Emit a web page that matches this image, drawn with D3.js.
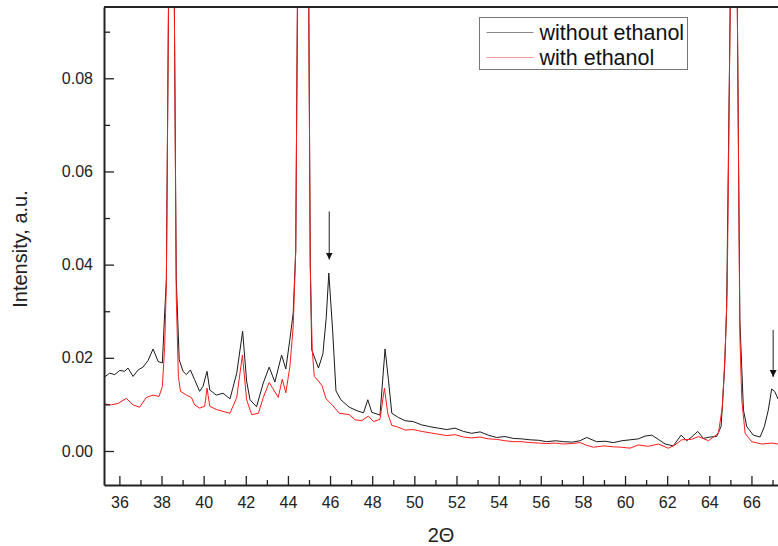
<!DOCTYPE html>
<html>
<head>
<meta charset="utf-8">
<script src="https://cdn.jsdelivr.net/npm/d3@7"></script>
<style>
    body { margin: 0; background: #fff; }
    svg { display: block; font-family: "Liberation Sans", Arial, sans-serif; }
</style>
</head>
<body>
<div id="chart"></div>
<script>
// 2-theta (deg) / intensity (a.u.)
const withoutEthanol = [
    [35.27, 0.0158], [35.54, 0.0167], [35.78, 0.0164], [36.02, 0.0173], [36.25, 0.0171],
    [36.41, 0.0178], [36.65, 0.0160], [36.89, 0.0174], [37.12, 0.0180], [37.36, 0.0194],
    [37.60, 0.0219], [37.84, 0.0192], [38.04, 0.0189], [38.15, 0.0296], [38.23, 0.0368],
    [38.33, 0.095], [38.40, 0.30], [38.47, 0.50], [38.54, 0.30], [38.61, 0.095],
    [38.70, 0.0368], [38.84, 0.0196], [39.02, 0.0171], [39.18, 0.0164], [39.37, 0.0174],
    [39.57, 0.0153], [39.81, 0.0128], [39.97, 0.0139], [40.16, 0.0171], [40.29, 0.0131],
    [40.60, 0.0120], [40.92, 0.0124], [41.25, 0.0112], [41.57, 0.0167], [41.85, 0.0257],
    [42.04, 0.0150], [42.20, 0.0110], [42.51, 0.0095], [42.83, 0.0146], [43.11, 0.0180],
    [43.38, 0.0148], [43.70, 0.0206], [43.90, 0.0176], [44.09, 0.0239], [44.25, 0.0296],
    [44.37, 0.0430], [44.45, 0.095], [44.58, 0.30], [44.72, 0.50], [44.86, 0.30],
    [44.99, 0.095], [45.06, 0.040], [45.13, 0.0217], [45.45, 0.0178], [45.66, 0.0209],
    [45.82, 0.0287], [45.94, 0.0382], [46.12, 0.0260], [46.28, 0.0129], [46.51, 0.0110],
    [46.91, 0.0094], [47.30, 0.0086], [47.59, 0.0082], [47.79, 0.0110], [47.98, 0.0083],
    [48.37, 0.0077], [48.61, 0.0219], [48.77, 0.0153], [48.93, 0.0081], [49.24, 0.0072],
    [49.56, 0.0065], [49.95, 0.0063], [50.35, 0.0056], [50.75, 0.0052], [51.14, 0.0049],
    [51.54, 0.0046], [51.93, 0.0049], [52.33, 0.0042], [52.72, 0.0038], [53.12, 0.0041],
    [53.51, 0.0034], [53.91, 0.0029], [54.30, 0.0031], [54.70, 0.0027], [55.10, 0.0026],
    [55.49, 0.0024], [55.90, 0.0023], [56.28, 0.0020], [56.70, 0.0022], [57.07, 0.0020],
    [57.50, 0.0019], [57.86, 0.0022], [58.18, 0.0029], [58.65, 0.0020], [59.05, 0.0021],
    [59.45, 0.0018], [59.85, 0.0022], [60.24, 0.0024], [60.63, 0.0026], [60.95, 0.0032],
    [61.27, 0.0034], [61.58, 0.0025], [61.90, 0.0015], [62.29, 0.0011], [62.66, 0.0034],
    [62.93, 0.0022], [63.16, 0.0030], [63.45, 0.0042], [63.72, 0.0027], [64.03, 0.0030],
    [64.35, 0.0031], [64.56, 0.0053], [64.72, 0.0174], [64.82, 0.0300], [64.99, 0.095],
    [65.08, 0.30], [65.16, 0.50], [65.25, 0.30], [65.33, 0.095], [65.45, 0.0280],
    [65.62, 0.0088], [65.78, 0.0052], [66.09, 0.0034], [66.41, 0.0030], [66.61, 0.0052],
    [66.80, 0.0088], [66.96, 0.0133], [67.10, 0.0128], [67.26, 0.0112]
];

const withEthanol = [
    [35.27, 0.0101], [35.62, 0.0099], [35.94, 0.0102], [36.33, 0.0113], [36.65, 0.0099],
    [36.96, 0.0094], [37.28, 0.0115], [37.60, 0.0120], [37.88, 0.0117], [38.04, 0.0138],
    [38.15, 0.0224], [38.23, 0.0360], [38.33, 0.095], [38.40, 0.30], [38.47, 0.50],
    [38.54, 0.30], [38.61, 0.095], [38.70, 0.0330], [38.80, 0.0160], [38.90, 0.0128],
    [39.18, 0.0120], [39.42, 0.0115], [39.57, 0.0099], [39.81, 0.0092], [40.05, 0.0096],
    [40.16, 0.0135], [40.29, 0.0096], [40.60, 0.0089], [40.92, 0.0085], [41.25, 0.0081],
    [41.57, 0.0115], [41.84, 0.0206], [42.04, 0.0110], [42.28, 0.0078], [42.60, 0.0081],
    [42.83, 0.0115], [43.11, 0.0147], [43.30, 0.0133], [43.54, 0.0115], [43.73, 0.0154],
    [43.90, 0.0125], [44.09, 0.0180], [44.25, 0.0267], [44.37, 0.0430], [44.45, 0.095],
    [44.58, 0.30], [44.72, 0.50], [44.86, 0.30], [44.99, 0.095], [45.06, 0.040],
    [45.15, 0.0220], [45.25, 0.0160], [45.45, 0.0150], [45.62, 0.0140], [45.81, 0.0112],
    [46.12, 0.0098], [46.44, 0.0081], [46.91, 0.0078], [47.19, 0.0067], [47.50, 0.0065],
    [47.82, 0.0075], [48.06, 0.0063], [48.37, 0.0068], [48.58, 0.0135], [48.74, 0.0080],
    [48.93, 0.0055], [49.24, 0.0051], [49.56, 0.0045], [49.95, 0.0046], [50.35, 0.0042],
    [50.75, 0.0039], [51.14, 0.0036], [51.54, 0.0033], [51.93, 0.0035], [52.33, 0.0030],
    [52.72, 0.0028], [53.12, 0.0030], [53.51, 0.0026], [53.91, 0.0025], [54.30, 0.0022],
    [54.70, 0.0020], [55.10, 0.0020], [55.49, 0.0018], [55.90, 0.0017], [56.28, 0.0016],
    [56.70, 0.0017], [57.07, 0.0015], [57.50, 0.0016], [57.86, 0.0018], [58.20, 0.0012],
    [58.50, 0.0008], [59.00, 0.0011], [59.45, 0.0009], [59.85, 0.0008], [60.24, 0.0006],
    [60.63, 0.0013], [61.10, 0.0010], [61.58, 0.0015], [62.06, 0.0006], [62.37, 0.0013],
    [62.69, 0.0024], [63.16, 0.0025], [63.48, 0.0031], [63.96, 0.0022], [64.43, 0.0038],
    [64.62, 0.0095], [64.75, 0.0210], [64.85, 0.0350], [64.99, 0.095], [65.08, 0.30],
    [65.16, 0.50], [65.25, 0.30], [65.33, 0.095], [65.45, 0.0250], [65.54, 0.0110],
    [65.70, 0.0038], [66.01, 0.0020], [66.49, 0.0015], [66.96, 0.0017], [67.26, 0.0015]
];

const seriesNames = ["without ethanol", "with ethanol"];
const seriesColors = ["#1a1a1a", "#ff1a1a"];
const legendColors = ["#8a8a8a", "#ff9a9a"];

const xTicks = [36, 38, 40, 42, 44, 46, 48, 50, 52, 54, 56, 58, 60, 62, 64, 66];
const xMinorTicks = [37, 39, 41, 43, 45, 47, 49, 51, 53, 55, 57, 59, 61, 63, 65, 67];
const yTicks = [0, 0.02, 0.04, 0.06, 0.08];
const yMinorTicks = [0.01, 0.03, 0.05, 0.07, 0.09];

// arrows marking the extra peaks: [2theta, top, tip]
const arrows = [
    [45.96, 0.0514, 0.0411],
    [67.03, 0.0260, 0.0159]
];

const width = 778;
const height = 546;
const margin = { top: 7, right: 0, bottom: 61, left: 104 };
const innerW = width - margin.left - margin.right;
const innerH = height - margin.top - margin.bottom;

const svg = d3.select("#chart")
    .append("svg")
    .attr("width", width)
    .attr("height", height);

const x = d3.scaleLinear()
    .domain([35.27, 67.26])
    .range([0, innerW]);

const y = d3.scaleLinear()
    .domain([-0.0073, 0.0953])
    .range([innerH, 0]);

const defs = svg.append("defs");
defs.append("clipPath")
    .attr("id", "plot-clip")
    .append("rect")
    .attr("width", innerW)
    .attr("height", innerH);

defs.append("marker")
    .attr("id", "arrow-head")
    .attr("viewBox", "0 0 10 10")
    .attr("refX", 10)
    .attr("refY", 5)
    .attr("markerWidth", 7)
    .attr("markerHeight", 12)
    .attr("markerUnits", "userSpaceOnUse")
    .attr("orient", "auto")
    .append("path")
    .attr("d", "M0,0 L10,5 L0,10 Z")
    .attr("fill", "#111");

const g = svg.append("g")
    .attr("transform", `translate(${margin.left},${margin.top})`);

const line = d3.line()
    .x(d => x(d[0]))
    .y(d => y(d[1]));

const plot = g.append("g")
    .attr("clip-path", "url(#plot-clip)");

[withoutEthanol, withEthanol].forEach((series, i) => {
    plot.append("path")
        .datum(series)
        .attr("fill", "none")
        .attr("stroke", seriesColors[i])
        .attr("stroke-width", 1)
        .attr("stroke-linejoin", "round")
        .attr("d", line);
});

plot.selectAll(".arrow")
    .data(arrows)
    .enter().append("line")
    .attr("class", "arrow")
    .attr("x1", d => x(d[0]))
    .attr("x2", d => x(d[0]))
    .attr("y1", d => y(d[1]))
    .attr("y2", d => y(d[2]))
    .attr("stroke", "#222")
    .attr("stroke-width", 1)
    .attr("marker-end", "url(#arrow-head)");

// axes, ticks pointing inward
g.append("g")
    .attr("transform", `translate(0,${innerH})`)
    .call(d3.axisBottom(x).tickValues(xTicks).tickSize(-9).tickPadding(12).tickSizeOuter(0));

g.append("g")
    .attr("transform", `translate(0,${innerH})`)
    .call(d3.axisBottom(x).tickValues(xMinorTicks).tickSize(-5).tickFormat("").tickSizeOuter(0))
    .select(".domain").remove();

g.append("g")
    .call(d3.axisLeft(y).tickValues(yTicks).tickSize(-10).tickPadding(11)
        .tickFormat(d3.format(".2f")).tickSizeOuter(0));

g.append("g")
    .call(d3.axisLeft(y).tickValues(yMinorTicks).tickSize(-6).tickFormat("").tickSizeOuter(0))
    .select(".domain").remove();

g.selectAll(".tick line")
    .attr("stroke", "#222")
    .attr("stroke-width", 1.3);

g.selectAll(".domain")
    .attr("stroke", "#222")
    .attr("stroke-width", 2);

g.selectAll(".tick text")
    .attr("fill", "#222")
    .style("font-size", "16px");

// top frame line
g.append("line")
    .attr("x1", 0)
    .attr("x2", innerW)
    .attr("y1", 0)
    .attr("y2", 0)
    .attr("stroke", "#222")
    .attr("stroke-width", 2);

svg.append("text")
    .attr("transform", "translate(27,249) rotate(-90)")
    .attr("text-anchor", "middle")
    .attr("fill", "#222")
    .style("font-size", "20px")
    .text("Intensity, a.u.");

svg.append("text")
    .attr("x", 441)
    .attr("y", 542)
    .attr("text-anchor", "middle")
    .attr("fill", "#222")
    .style("font-size", "20px")
    .text("2Θ");

// legend
const legend = svg.append("g")
    .attr("transform", "translate(479.5,17.5)");

legend.append("rect")
    .attr("width", 208)
    .attr("height", 52)
    .attr("fill", "#fff")
    .attr("stroke", "#777")
    .attr("stroke-width", 1);

seriesNames.forEach((name, i) => {
    const row = legend.append("g")
        .attr("transform", `translate(0,${15 + i * 25})`);
    row.append("line")
        .attr("x1", 7)
        .attr("x2", 54)
        .attr("stroke", legendColors[i])
        .attr("stroke-width", 1);
    row.append("text")
        .attr("x", 60)
        .attr("dy", "0.35em")
        .attr("fill", "#111")
        .style("font-size", "21.5px")
        .text(name);
});
</script>
</body>
</html>
